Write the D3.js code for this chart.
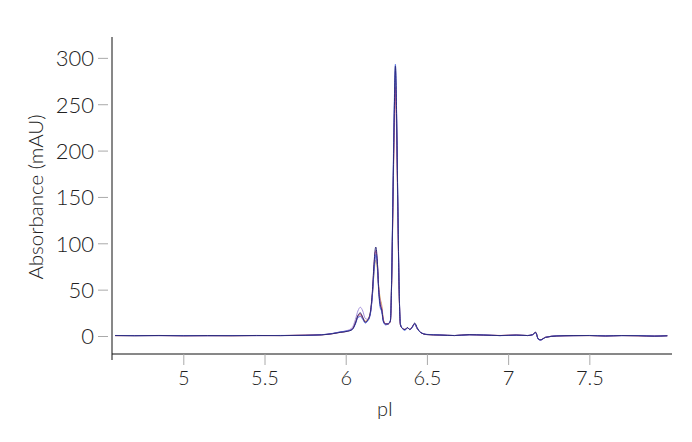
<!DOCTYPE html>
<html>
<head>
<meta charset="utf-8">
<script src="https://cdn.jsdelivr.net/npm/d3@7"></script>
<style>
  body { margin: 0; background: #fff; }
  text { font-family: Lato, "Open Sans", sans-serif; font-weight: 300; fill: #222; }
</style>
</head>
<body>
<div id="chart"></div>
<script>
// pI sample positions (denser around the peaks)
const pI = [4.58, 4.7, 4.85, 5.0, 5.15, 5.3, 5.45, 5.6, 5.75, 5.85,
  5.92, 5.97, 6.01, 6.04, 6.06, 6.075, 6.09, 6.105, 6.12, 6.135,
  6.15, 6.165, 6.175, 6.185, 6.195, 6.203, 6.212, 6.222, 6.232, 6.245,
  6.26, 6.275, 6.283, 6.291, 6.299, 6.306, 6.313, 6.321, 6.329, 6.337,
  6.35, 6.365, 6.38, 6.395, 6.41, 6.425, 6.44, 6.46, 6.5, 6.58,
  6.67, 6.76, 6.85, 6.95, 7.05, 7.12, 7.15, 7.17, 7.185, 7.2,
  7.23, 7.3, 7.4, 7.5, 7.6, 7.7, 7.8, 7.9, 7.98];

// absorbance traces (mAU), one per run
const runOrange = [0.5,0.4,0.5,0.4,0.4,0.3,0.5,0.5,0.8,1.3, 2.6,4.2,5.3,7.5,15,22,24,20,16,18, 24,46,70,82,72,54,41,33,18,13, 13,16,60,145,232,275,232,135,48,12, 8,7,9,7,10,13,8,4,1.6,1.1, 0.5,1.4,1,0.5,1,0.5,1.4,3.8,-3.2,-4.2, -1.4,0.1,0.4,0.5,0.1,0.5,0.3,-0.1,0.3];
const runLavender = [0.5,0.4,0.5,0.3,0.4,0.4,0.5,0.5,0.8,1.3, 2.8,4.6,6,9,18,27,31,27,19,18, 23,46,74,86,76,52,38,30,17,13, 13,16,62,150,240,285,238,138,50,12, 8,7,9,7,10,13,8,4,1.6,1.1, 0.5,1.4,1,0.5,1,0.5,1.4,3.8,-3.2,-4.2, -1.4,0.1,0.4,0.5,0.1,0.5,0.3,-0.1,0.3];
const runPink = [0.4,0.5,0.5,0.3,0.4,0.4,0.5,0.5,0.9,1.3, 2.6,4.2,5.2,7.5,14,21,23,19,15,17, 23,48,78,92,79,52,36,29,17,13, 13,16,58,140,225,268,222,130,48,12, 8,7,9,7,10,13,8,4,1.6,1.1, 0.5,1.4,1,0.6,1,0.5,1.4,3.8,-3.2,-4.2, -1.4,0.1,0.4,0.5,0.1,0.5,0.3,-0.1,0.3];
const runBlue = [0.6,0.4,0.4,0.5,0.3,0.5,0.4,0.6,0.7,1.4, 2.8,4.5,5.5,7,13,20,21,18,14,16, 22,45,72,88,76,48,31,26,15,12, 13,17,65,160,250,293,245,145,52,13, 8,6,9,7,9,13,8,4,1.8,1.2, 0.6,1.2,1.2,0.4,0.9,0.6,1.2,3.5,-3.5,-4.5, -1.5,0.2,0.3,0.6,0.2,0.4,0.5,0,0.2];
const runNavy = [0.5,0.3,0.6,0.2,0.5,0.3,0.6,0.4,0.8,1.2, 2.5,4,5,7,14,22,25,20,15,17, 24,50,80,96,80,50,34,28,16,13, 13,16,60,150,240,291,240,140,50,12, 8,7,9,7,10,14,9,4,1.5,1, 0.5,1.5,1,0.5,1,0.5,1.5,4,-3,-4, -1.5,0,0.5,0.5,0,0.5,0.3,-0.2,0.3];

const xTicks = [5, 5.5, 6, 6.5, 7, 7.5];
const yTicks = [0, 50, 100, 150, 200, 250, 300];

const runs = [
  { values: runOrange, color: "#d9a24a" },
  { values: runLavender, color: "#a48fdc" },
  { values: runPink, color: "#c4437e" },
  { values: runBlue, color: "#4d6be0" },
  { values: runNavy, color: "#2d2a7a" }
];

const W = 692, H = 442;
const svg = d3.select("#chart").append("svg").attr("width", W).attr("height", H);

const x = d3.scaleLinear().domain([4.561, 8.009]).range([112, 672]);
const y = d3.scaleLinear().domain([-19.4, 322.5]).range([354, 37]);

// traces
const line = d3.line()
  .x(function (d, i) { return x(pI[i]); })
  .y(function (d) { return y(d); })
  .curve(d3.curveMonotoneX);

svg.selectAll(".trace")
  .data(runs)
  .enter()
  .append("path")
  .attr("class", "trace")
  .attr("fill", "none")
  .attr("stroke", function (d) { return d.color; })
  .attr("stroke-width", 1)
  .attr("d", function (d) { return line(d.values); });

// x axis
const xAxis = svg.append("g")
  .attr("transform", "translate(0,354)")
  .call(d3.axisBottom(x).tickValues(xTicks).tickSize(11).tickPadding(6).tickFormat(d3.format("")));
xAxis.select(".domain").attr("stroke", "#111").attr("d", "M112,6V0H672");
xAxis.selectAll(".tick line").attr("stroke", "#aaa");
xAxis.selectAll(".tick text").style("font-size", "20px").attr("fill", "#222");

// y axis
const yAxis = svg.append("g")
  .attr("transform", "translate(112,0)")
  .call(d3.axisLeft(y).tickValues(yTicks).tickSize(0).tickPadding(18));
yAxis.select(".domain").attr("stroke", "#111").attr("d", "M0,37V354");
yAxis.selectAll(".tick line").attr("stroke", "#aaa").attr("x1", -14).attr("x2", -4);
yAxis.selectAll(".tick text").style("font-size", "22px").attr("fill", "#222").attr("dy", "0.36em");

// axis labels
svg.append("text")
  .attr("x", 385)
  .attr("y", 416)
  .attr("text-anchor", "middle")
  .style("font-size", "20px")
  .text("pI");

svg.append("text")
  .attr("transform", "translate(43,197) rotate(-90)")
  .attr("text-anchor", "middle")
  .style("font-size", "20.5px")
  .text("Absorbance (mAU)");
</script>
</body>
</html>
